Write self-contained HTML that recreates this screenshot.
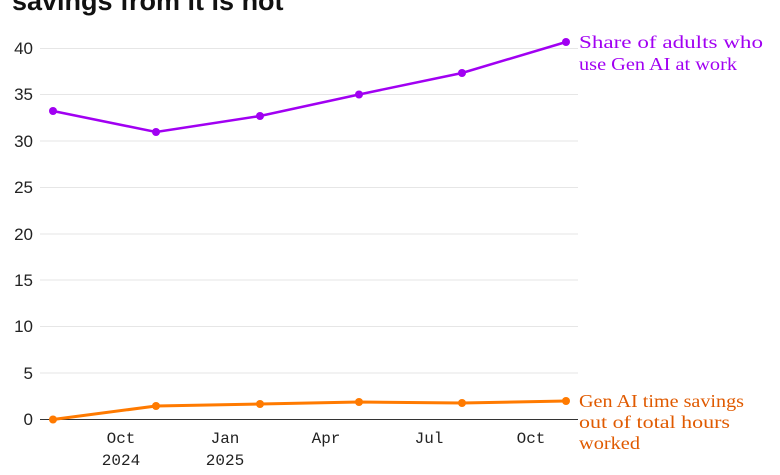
<!DOCTYPE html>
<html><head><style>
body{margin:0;background:#fff;width:780px;height:470px;overflow:hidden;}
</style></head><body>
<svg width="780" height="470" xmlns="http://www.w3.org/2000/svg">
<text x="12" y="10" font-family="Liberation Sans, sans-serif" font-weight="bold" font-size="27" fill="#111">savings from it is not</text>
<g stroke="#e6e6e6" stroke-width="1">
<line x1="40" x2="578" y1="48.5" y2="48.5"/>
<line x1="40" x2="578" y1="94.5" y2="94.5"/>
<line x1="40" x2="578" y1="141" y2="141"/>
<line x1="40" x2="578" y1="187.5" y2="187.5"/>
<line x1="40" x2="578" y1="234" y2="234"/>
<line x1="40" x2="578" y1="280" y2="280"/>
<line x1="40" x2="578" y1="326.5" y2="326.5"/>
<line x1="40" x2="578" y1="373" y2="373"/>
</g>
<line x1="40" x2="578" y1="419.5" y2="419.5" stroke="#333" stroke-width="1"/>
<g font-family="Liberation Sans, sans-serif" font-size="17" fill="#222" text-anchor="end">
<text x="33" y="54">40</text><text x="33" y="100">35</text><text x="33" y="147">30</text>
<text x="33" y="193">25</text><text x="33" y="240">20</text><text x="33" y="286">15</text>
<text x="33" y="332">10</text><text x="33" y="379">5</text><text x="33" y="425">0</text>
</g>
<g font-family="Liberation Mono, monospace" font-size="16" fill="#222" text-anchor="middle">
<text x="121" y="443">Oct</text><text x="121" y="465">2024</text>
<text x="225" y="443">Jan</text><text x="225" y="465">2025</text>
<text x="326" y="443">Apr</text><text x="429" y="443">Jul</text><text x="531" y="443">Oct</text>
</g>
<polyline points="53,111 156,132 260,116 359,94.5 462,73 566,42" fill="none" stroke="#a100f2" stroke-width="2.5"/>
<g fill="#a100f2"><circle cx="53" cy="111" r="4"/><circle cx="156" cy="132" r="4"/><circle cx="260" cy="116" r="4"/><circle cx="359" cy="94.5" r="4"/><circle cx="462" cy="73" r="4"/><circle cx="566" cy="42" r="4"/></g>
<polyline points="53,419.5 156,406 260,404 359,402 462,403 566,401" fill="none" stroke="#ff7a00" stroke-width="3"/>
<g fill="#ff7a00"><circle cx="53" cy="419.5" r="4"/><circle cx="156" cy="406" r="4"/><circle cx="260" cy="404" r="4"/><circle cx="359" cy="402" r="4"/><circle cx="462" cy="403" r="4"/><circle cx="566" cy="401" r="4"/></g>
<g font-family="Liberation Serif, serif" font-size="18" fill="#a100f2">
<text x="579" y="48" textLength="184" lengthAdjust="spacingAndGlyphs">Share of adults who</text><text x="579" y="70" textLength="158" lengthAdjust="spacingAndGlyphs">use Gen AI at work</text>
</g>
<g font-family="Liberation Serif, serif" font-size="18" fill="#e05a00">
<text x="579" y="407" textLength="165" lengthAdjust="spacingAndGlyphs">Gen AI time savings</text><text x="579" y="428" textLength="151" lengthAdjust="spacingAndGlyphs">out of total hours</text><text x="579" y="449" textLength="61" lengthAdjust="spacingAndGlyphs">worked</text>
</g>
</svg>
</body></html>
